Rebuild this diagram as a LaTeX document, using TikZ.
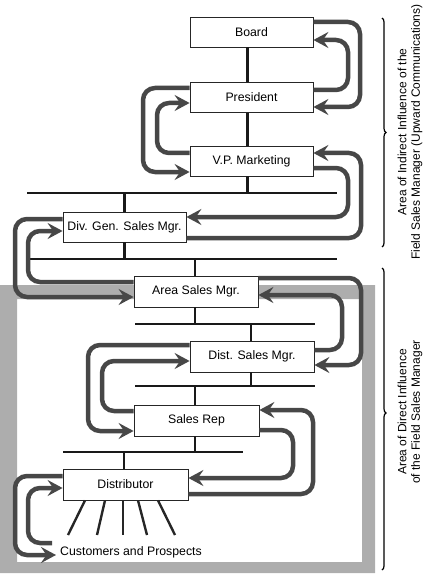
\documentclass[tikz,border=0pt]{standalone}
\usepackage{fontspec}
\setmainfont{Liberation Sans}
\usetikzlibrary{arrows.meta,decorations.pathreplacing,calc}
\begin{document}
\begin{tikzpicture}[x=1pt,y=-1pt,
  box/.style={draw=black!85,line width=0.8pt,fill=white,minimum width=123pt,minimum height=30pt,inner sep=0pt,font=\fontsize{12.3}{14}\selectfont},
  org/.style={line width=2.8pt,black!90},
  flow/.style={line width=4.5pt,black!72,rounded corners=12pt,-{Stealth[length=15pt,width=16pt,inset=5.5pt]}},
  ray/.style={line width=2.4pt,black!85},
  bracestyle/.style={decorate,decoration={brace,amplitude=4pt,aspect=#1},line width=1.2pt},
  lbl/.style={font=\fontsize{12}{13.5}\selectfont,align=center,rotate=90,inner sep=0pt}
]
\useasboundingbox (0,0) rectangle (423,580);

% grey frame (area of direct influence)
\fill[black!32,even odd rule] (0,285) rectangle (375,573) (17,299) rectangle (362,562);

% bar coordinates
\coordinate (b1l) at (27,193);  \coordinate (b1r) at (337,193);
\coordinate (b2l) at (27,259);  \coordinate (b2r) at (337,259);
\coordinate (b3l) at (135,324); \coordinate (b3r) at (315,324);
\coordinate (b4l) at (135,386); \coordinate (b4r) at (315,386);
\coordinate (b5l) at (63,452);  \coordinate (b5r) at (243,452);

% boxes
\node[box] (Board)     at (251.5,32)   {Board};
\node[box] (President) at (251.5,97.5) {President};
\node[box] (VP)        at (251.5,161)  {V.P. Marketing};
\node[box] (Div)       at (124.5,227)  {Div. Gen. Sales Mgr.};
\node[box,minimum width=124pt,minimum height=31pt] (Area) at (196,291.5) {Area Sales Mgr.};
\node[box,minimum width=124pt,minimum height=31pt] (Dist) at (252,356.5) {Dist. Sales Mgr.};
\node[box,minimum width=125pt,minimum height=31pt] (SalesRep) at (196.5,420.5) {Sales Rep};
\node[box,minimum width=125pt,minimum height=31pt] (Distributor) at (125.5,484.5) {Distributor};
\node[font=\fontsize{12.3}{14}\selectfont,inner sep=1pt] (Customers) at (131,552) {Customers and Prospects};

% org lines
\draw[org] ([xshift=-4pt]Board.south) -- ([xshift=-4pt]President.north);
\draw[org] ([xshift=-4pt]President.south) -- ([xshift=-4pt]VP.north);
\draw[org] ([xshift=-4pt]VP.south) -- ([xshift=-4pt]VP.south |- b1l);
\draw[org] (b1l) -- (b1r);
\draw[org] (Div.north |- b1l) -- (Div.north);
\draw[org] (Div.south) -- (Div.south |- b2l);
\draw[org] (b2l) -- (b2r);
\draw[org] ([xshift=-1pt]Area.north |- b2l) -- ([xshift=-1pt]Area.north);
\draw[org] ([xshift=-1pt]Area.south) -- ([xshift=-1pt]Area.south |- b3l);
\draw[org] (b3l) -- (b3r);
\draw[org] ([xshift=-1pt]Dist.north |- b3l) -- ([xshift=-1pt]Dist.north);
\draw[org] ([xshift=-1pt]Dist.south) -- ([xshift=-1pt]Dist.south |- b4l);
\draw[org] (b4l) -- (b4r);
\draw[org] ([xshift=-1.5pt]SalesRep.north |- b4l) -- ([xshift=-1.5pt]SalesRep.north);
\draw[org] ([xshift=-1.5pt]SalesRep.south) -- ([xshift=-1.5pt]SalesRep.south |- b5l);
\draw[org] (b5l) -- (b5r);
\draw[org] ([xshift=-1.5pt]Distributor.north |- b5l) -- ([xshift=-1.5pt]Distributor.north);

% rays to customers
\coordinate (r1) at (68,535);
\coordinate (r2) at (97,535);
\coordinate (r3) at (123,535);
\coordinate (r4) at (147,535);
\coordinate (r5) at (175,535);
\draw[ray] (Distributor.south -| 85,0) -- (r1);
\draw[ray] (Distributor.south -| 105,0) -- (r2);
\draw[ray] (Distributor.south -| 123,0) -- (r3);
\draw[ray] (Distributor.south -| 138,0) -- (r4);
\draw[ray] (Distributor.south -| 158,0) -- (r5);

% communication flows
\draw[flow] (Board.east |- 0,22) -- (360,22) -- (360,107) -- (President.east |- 0,107);
\draw[flow] (President.east |- 0,90) -- (348,90) -- (348,40) -- (Board.east |- 0,40);
\draw[flow] (President.west |- 0,88) -- (143,88) -- (143,172) -- (VP.west |- 0,172);
\draw[flow] (VP.west |- 0,153) -- (157,153) -- (157,103) -- (President.west |- 0,103);
\draw[flow] (VP.east |- 0,168) -- (348,168) -- (348,217) -- (Div.east |- 0,217);
\draw[flow] (Div.east |- 0,238) -- (361,238) -- (361,153) -- (VP.east |- 0,153);
\draw[flow] (Div.west |- 0,219) -- (15,219) -- (15,297) -- (Area.west |- 0,297);
\draw[flow] (Area.west |- 0,282) -- (28,282) -- (28,231) -- (Div.west |- 0,231);
\draw[flow] (Area.east |- 0,278) -- (361,278) -- (361,365) -- (Dist.east |- 0,365);
\draw[flow] (Dist.east |- 0,350) -- (342,350) -- (342,295) -- (Area.east |- 0,295);
\draw[flow] (Dist.west |- 0,345) -- (88,345) -- (88,431) -- (SalesRep.west |- 0,431);
\draw[flow] (SalesRep.west |- 0,411) -- (102,411) -- (102,361) -- (Dist.west |- 0,361);
\draw[flow] (Distributor.east |- 0,494) -- (313,494) -- (313,410) -- (SalesRep.east |- 0,410);
\draw[flow] (SalesRep.east |- 0,430) -- (293,430) -- (293,478) -- (Distributor.east |- 0,478);
\coordinate (cend) at (56,555);
\coordinate (cstart) at (52,543);
\draw[flow] (Distributor.west |- 0,476) -- (15,476) -- (15,555) -- (cend);
\draw[flow] (cstart) -- (28,543) -- (28,488) -- (Distributor.west |- 0,488);

% braces and labels
\draw[bracestyle=0.5] (382,18) -- (382,247);
\draw[bracestyle=0.48] (382,268) -- (382,570);
\node[lbl] (upperlbl) at (410,132) {Area of Indirect Influence of the\\Field Sales Manager (Upward Communications)};
\node[lbl] (lowerlbl) at (410,412) {Area of Direct Influence\\of the Field Sales Manager};
\end{tikzpicture}
\end{document}
